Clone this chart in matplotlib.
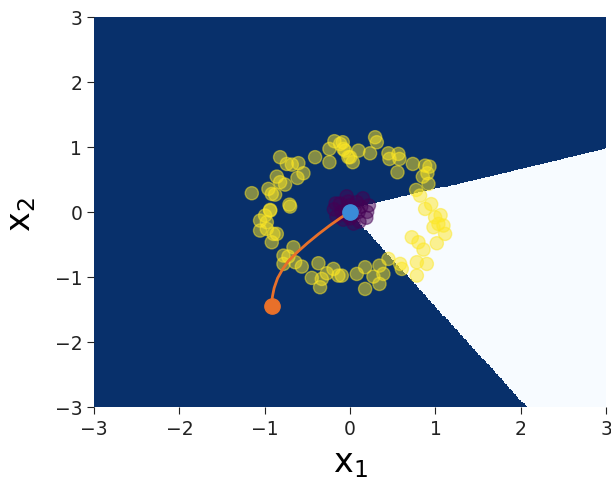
import numpy as np
import matplotlib
matplotlib.use("Agg")
import matplotlib.pyplot as plt

# ---- data ----
ring_x = [-1.152, -0.82, -0.742, -0.683, -0.606, -0.547, -0.617, -0.859, -0.82, -0.762,
          -0.957, -0.918, -0.879, -0.937, -0.711, -0.41, -0.242, -0.242, -0.184, -0.117,
          -0.059, -0.02, -0.086, -0.078, 0.0, 0.031, 0.098, 0.234, 0.293, 0.313,
          0.449, 0.461, 0.566, 0.578, 0.555, 0.735, 0.879, 0.93, 0.852, 0.906,
          0.918, 0.774, 0.82, 0.879, 0.996, 1.035, 0.977, 1.094, 1.113, 1.016,
          0.723, 0.801, 0.782, 0.899, 0.782, 0.606, 0.586, 0.449, 0.344, 0.39,
          0.273, 0.176, 0.078, -0.098, 0.176, 0.344, -0.996, -0.937, -1.055, -0.976,
          -1.055, -0.976, -0.898, -0.859, -0.918, -0.703, -0.664, -0.781, -0.723, -0.781,
          -0.644, -0.566, -0.371, -0.449, -0.332, -0.352, -0.273, -0.195, -0.137, 0.95,
          1.06, 0.86]
ring_y = [0.288, 0.842, 0.738, 0.728, 0.75, 0.595, 0.523, 0.543, 0.457, 0.42,
          0.354, 0.277, 0.266, 0.031, 0.112, 0.842, 0.765, 0.969, 1.088, 1.046,
          0.943, 0.842, 1.072, 0.969, 0.842, 0.765, 0.943, 0.902, 1.149, 1.072,
          0.902, 0.815, 0.892, 0.815, 0.61, 0.738, 0.712, 0.697, 0.543, 0.595,
          0.431, 0.338, 0.251, 0.046, -0.082, -0.185, -0.236, -0.21, -0.338, -0.482,
          -0.39, -0.467, -0.774, -0.8, -0.98, -0.877, -0.8, -0.723, -0.826, -0.954,
          -0.995, -0.851, -0.954, -0.98, -1.185, -1.108, -0.056, 0.02, -0.133, -0.159,
          -0.287, -0.262, -0.338, -0.338, -0.467, 0.082, -0.544, -0.672, -0.687, -0.8,
          -0.774, -0.841, -0.79, -1.015, -1.031, -1.159, -0.944, -0.877, -0.98, 0.12,
          -0.05, -0.58]
core_x = [0.0, 0.05, -0.05, 0.03, -0.04, 0.1, -0.1, 0.0, 0.0,
          -0.04, 0.15, 0.2, 0.19, -0.19, -0.16, 0.04, -0.08, 0.11, 0.08, -0.12,
          0.13, -0.02, 0.22, -0.17]
core_y = [0.0, 0.05, 0.03, -0.06, -0.05, 0.0, 0.0, 0.1, -0.1,
          0.24, 0.21, 0.0, -0.09, 0.04, -0.07, -0.18, -0.12, -0.15, 0.15, 0.13,
          0.08, 0.16, 0.1, 0.13]
path_x = [-0.92, -0.91, -0.89, -0.85, -0.79, -0.72, -0.62, -0.5, -0.37, -0.24, -0.11, 0.0]
path_y = [-1.44, -1.3, -1.17, -1.02, -0.88, -0.75, -0.62, -0.48, -0.34, -0.21, -0.09, 0.0]
# decision wedge boundaries: points on each line
upper_pts = [(0.24, 0.12), (3.0, 0.97)]
lower_pts = [(0.17, -0.26), (2.07, -3.0)]

# ---- figure ----
fig = plt.figure(figsize=(6.11, 4.85), dpi=100)
ax = fig.add_axes([0.154, 0.159, 0.838, 0.804])

g = np.linspace(-3, 3, 400)
X, Y = np.meshgrid(g, g)
(ux0, uy0), (ux1, uy1) = upper_pts
(lx0, ly0), (lx1, ly1) = lower_pts
su = (uy1 - uy0) / (ux1 - ux0)
sl = (ly1 - ly0) / (lx1 - lx0)
inside = (Y < uy0 + su * (X - ux0)) & (Y > ly0 + sl * (X - lx0))
Z = 1.0 - inside.astype(float)
ax.pcolormesh(X, Y, Z, cmap="Blues", shading="nearest", vmin=0, vmax=1, rasterized=True)

cx = np.array(ring_x + core_x)
cy = np.array(ring_y + core_y)
lab = np.array([1] * len(ring_x) + [0] * len(core_x))
ax.scatter(cx, cy, c=lab, cmap="viridis", s=90, alpha=0.5, zorder=3)

ax.plot(path_x, path_y, color="#e8702a", lw=2, zorder=4)
ax.plot(path_x[0], path_y[0], "o", color="#e8702a", ms=11, zorder=5)
ax.plot(path_x[-1], path_y[-1], "o", color="#3a8bd8", ms=11, zorder=5)

ax.set_xlim(-3, 3)
ax.set_ylim(-3, 3)
ax.set_xticks([-3, -2, -1, 0, 1, 2, 3])
ax.set_yticks([-3, -2, -1, 0, 1, 2, 3])
ax.tick_params(labelsize=13.5, colors="#222222", length=5)
ax.set_xlabel("x$_1$", fontsize=24)
ax.set_ylabel("x$_2$", fontsize=24)
ax.xaxis.set_label_coords(0.5, -0.1)
ax.yaxis.set_label_coords(-0.11, 0.495)
for s in ax.spines.values():
    s.set_visible(False)

fig.savefig("out.png", dpi=100)
